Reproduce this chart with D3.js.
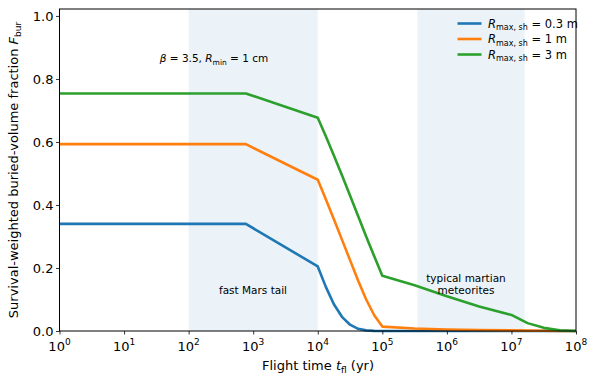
<!DOCTYPE html>
<html>
<head>
<meta charset="utf-8">
<script src="https://cdn.jsdelivr.net/npm/d3@7"></script>
<style>
  body { margin: 0; background: #fff; }
  text { font-family: "DejaVu Sans", sans-serif; fill: #000; }
</style>
</head>
<body>
<div id="chart"></div>
<script>
// flight time grid (yr) shared by all three curves
var times = [1, 770, 1e4, 1.334e4, 1.778e4, 2.371e4, 3.162e4, 4.217e4, 5.623e4, 7.499e4,
             1e5, 3.162e5, 1e6, 3.162e6, 1e7, 1.778e7, 3.162e7, 5.623e7, 1e8];

var blueVals   = [0.34, 0.34, 0.205, 0.14, 0.085, 0.045, 0.02, 0.007, 0.002, 0.0003, 0, 0, 0, 0, 0, 0, 0, 0, 0];
var orangeVals = [0.593, 0.593, 0.48, 0.418, 0.355, 0.29, 0.225, 0.16, 0.1, 0.05, 0.014, 0.008, 0.005, 0.003, 0.002, 0.0012, 0.0006, 0.0002, 0];
var greenVals  = [0.754, 0.754, 0.677, 0.618, 0.557, 0.494, 0.43, 0.365, 0.30, 0.237, 0.175, 0.145, 0.11, 0.078, 0.051, 0.025, 0.01, 0.002, 0];

var seriesNames = ["0.3", "1", "3"];
var seriesColors = ["#1f77b4", "#ff7f0e", "#2ca02c"];

// shaded windows (yr)
var bands = [[1e2, 1e4], [3.5e5, 1.6e7]];

var xTicks = [1, 10, 100, 1e3, 1e4, 1e5, 1e6, 1e7, 1e8];
var yTicks = [0, 0.2, 0.4, 0.6, 0.8, 1.0];

var svgWidth = 598;
var svgHeight = 385;
var margin = { top: 9, right: 22, bottom: 54, left: 59.5 };
var width = 576 - margin.left;
var height = 331 - margin.top;

var svg = d3.select("#chart")
  .append("svg")
  .attr("width", svgWidth)
  .attr("height", svgHeight);

var chartGroup = svg.append("g")
  .attr("transform", `translate(${margin.left}, ${margin.top})`);

var xScale = d3.scaleLog().domain([1, 1e8]).range([0, width]);
var yScale = d3.scaleLinear().domain([0, 1.022]).range([height, 0]);

// shaded bands
chartGroup.selectAll(".band")
  .data(bands)
  .enter()
  .append("rect")
  .attr("x", d => xScale(d[0]))
  .attr("width", d => xScale(d[1]) - xScale(d[0]))
  .attr("y", 0)
  .attr("height", height)
  .attr("fill", "#1f77b4")
  .attr("fill-opacity", 0.09);

// curves
var allVals = [blueVals, orangeVals, greenVals];
var lineGen = function(vals) {
  return d3.line()
    .x((d, i) => xScale(times[i]))
    .y(d => yScale(d))(vals);
};

chartGroup.selectAll(".curve")
  .data(allVals)
  .enter()
  .append("path")
  .attr("d", d => lineGen(d))
  .attr("fill", "none")
  .attr("stroke", (d, i) => seriesColors[i])
  .attr("stroke-width", 2.6)
  .attr("stroke-linejoin", "round");

// x axis, log with superscript labels
var minorTicks = [];
xTicks.slice(0, -1).forEach(function(t) {
  for (var k = 2; k <= 9; k++) minorTicks.push(t * k);
});

var xAxisG = chartGroup.append("g")
  .attr("transform", `translate(0, ${height})`);
xAxisG.call(d3.axisBottom(xScale).tickValues(minorTicks).tickSize(2).tickFormat(""));
xAxisG.call(d3.axisBottom(xScale).tickValues(xTicks).tickSize(3.5).tickFormat(""));
xAxisG.select(".domain").remove();
xAxisG.selectAll("line").attr("stroke", "#000").attr("stroke-width", 0.8);

xTicks.forEach(function(t, i) {
  var lab = xAxisG.append("text")
    .attr("x", xScale(t))
    .attr("y", 20)
    .attr("text-anchor", "middle")
    .style("font-size", "13px");
  lab.append("tspan").text("10");
  lab.append("tspan").attr("dy", -6).style("font-size", "9px").text(i);
});

// y axis
var yAxisG = chartGroup.append("g");
yAxisG.call(d3.axisLeft(yScale).tickValues(yTicks).tickSize(3.5).tickFormat(d3.format(".1f")));
yAxisG.select(".domain").remove();
yAxisG.selectAll("line").attr("stroke", "#000").attr("stroke-width", 0.8);
yAxisG.selectAll("text")
  .style("font-size", "13px")
  .style("font-family", "DejaVu Sans")
  .attr("dy", "0.35em")
  .attr("x", -6);

// frame
chartGroup.append("rect")
  .attr("width", width)
  .attr("height", height)
  .attr("fill", "none")
  .attr("stroke", "#000")
  .attr("stroke-width", 1);

// annotations
var ann = chartGroup.append("text")
  .attr("x", 214 - margin.left)
  .attr("y", 62 - margin.top)
  .attr("text-anchor", "middle")
  .style("font-size", "10.5px");
ann.append("tspan").style("font-style", "italic").text("β");
ann.append("tspan").text(" = 3.5, ");
ann.append("tspan").style("font-style", "italic").text("R");
ann.append("tspan").attr("dy", 2.5).style("font-size", "7.5px").text("min");
ann.append("tspan").attr("dy", -2.5).text(" = 1 cm");

chartGroup.append("text")
  .attr("x", 253 - margin.left)
  .attr("y", 294 - margin.top)
  .attr("text-anchor", "middle")
  .style("font-size", "10.5px")
  .text("fast Mars tail");

chartGroup.append("text")
  .attr("x", 466 - margin.left)
  .attr("y", 282 - margin.top)
  .attr("text-anchor", "middle")
  .style("font-size", "10.5px")
  .text("typical martian");
chartGroup.append("text")
  .attr("x", 466 - margin.left)
  .attr("y", 293.5 - margin.top)
  .attr("text-anchor", "middle")
  .style("font-size", "10.5px")
  .text("meteorites");

// legend
var legend = chartGroup.append("g")
  .attr("transform", `translate(${457.5 - margin.left}, ${23.5 - margin.top})`);
seriesNames.forEach(function(name, i) {
  var row = legend.append("g").attr("transform", `translate(0, ${i * 15.5})`);
  row.append("line")
    .attr("x1", 0).attr("x2", 24)
    .attr("stroke", seriesColors[i])
    .attr("stroke-width", 2.6);
  var t = row.append("text")
    .attr("x", 30.5)
    .attr("y", 4)
    .style("font-size", "11.5px");
  t.append("tspan").style("font-style", "italic").text("R");
  t.append("tspan").attr("dy", 2.5).style("font-size", "8px").text("max, sh");
  t.append("tspan").attr("dy", -2.5).text(" = " + name + " m");
});

// axis titles
var xTitle = svg.append("text")
  .attr("x", 318)
  .attr("y", 370)
  .attr("text-anchor", "middle")
  .style("font-size", "13px");
xTitle.append("tspan").text("Flight time ");
xTitle.append("tspan").style("font-style", "italic").text("t");
xTitle.append("tspan").attr("dy", 3).style("font-size", "9px").text("fl");
xTitle.append("tspan").attr("dy", -3).text(" (yr)");

var yTitle = svg.append("text")
  .attr("transform", "rotate(-90)")
  .attr("x", -170)
  .attr("y", 18)
  .attr("text-anchor", "middle")
  .style("font-size", "13px");
yTitle.append("tspan").text("Survival-weighted buried-volume fraction ");
yTitle.append("tspan").style("font-style", "italic").text("F");
yTitle.append("tspan").attr("dy", 3).style("font-size", "9px").text("bur");
</script>
</body>
</html>
